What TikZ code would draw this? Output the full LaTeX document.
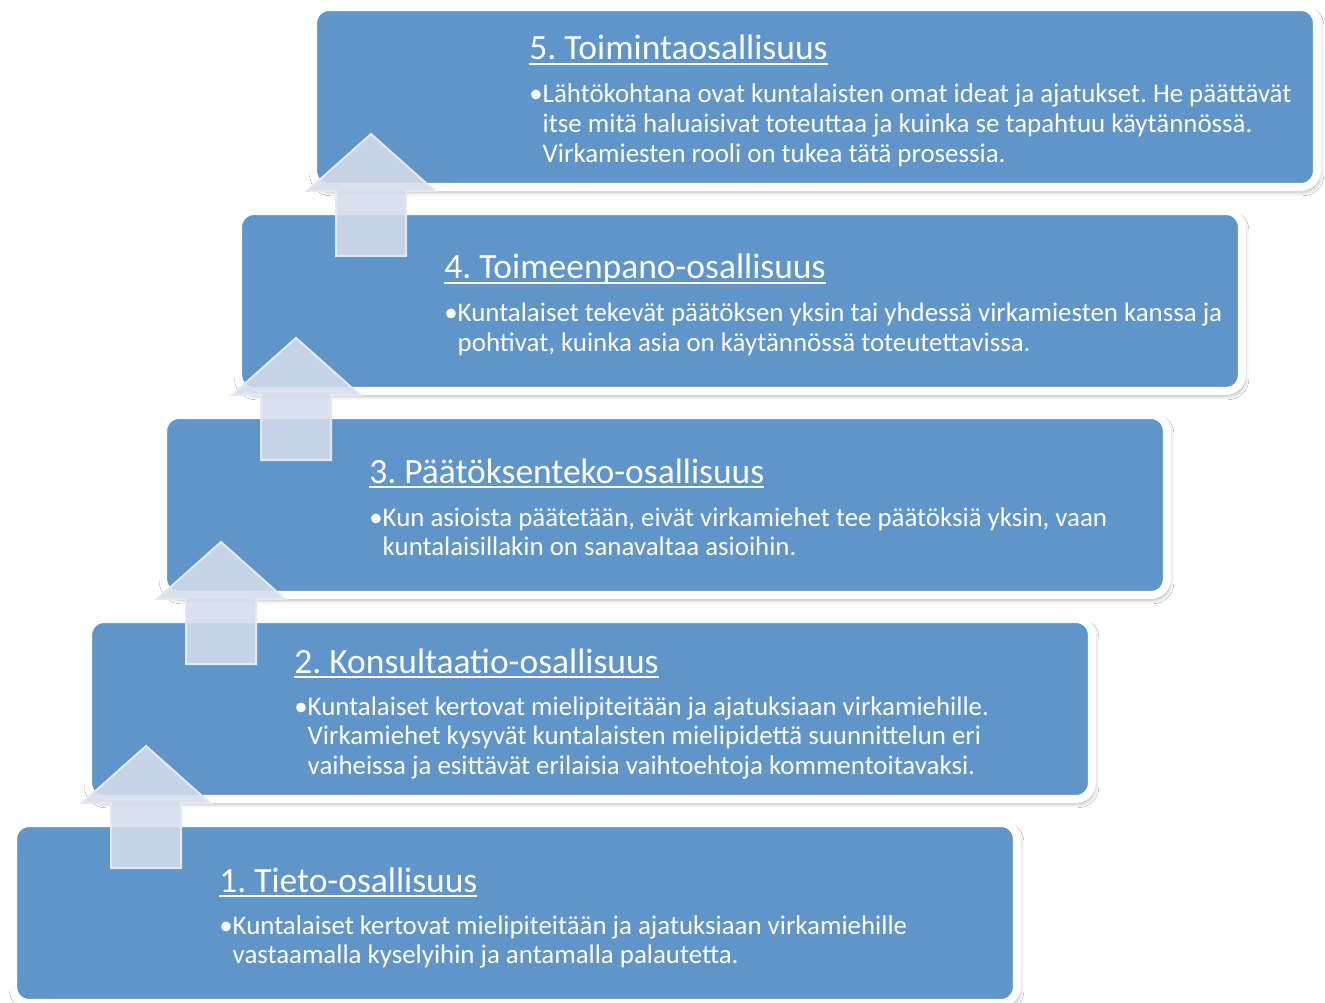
\documentclass[tikz,border=0pt]{standalone}
\usepackage{fontspec}
\setmainfont{Carlito}
\frenchspacing
\usetikzlibrary{shadows.blur}
\definecolor{stepblue}{RGB}{95,149,200}
\definecolor{liftfill}{RGB}{214,221,236}
\definecolor{liftedge}{RGB}{228,232,242}
\tikzset{
  stepbox/.style={rectangle, rounded corners=0.32cm, fill=stepblue, draw=white,
    line width=0.16cm, minimum width=20.08cm, minimum height=3.6cm,
    blur shadow={shadow xshift=1pt, shadow yshift=-2pt, shadow blur radius=3pt, shadow opacity=45}},
  steptitle/.style={anchor=base west, inner sep=0pt, text=white, font=\fontsize{20.2}{24}\selectfont},
  steptext/.style={anchor=base west, inner sep=0pt, text=white, font=\fontsize{15.3}{16.8}\selectfont},
  liftarrow/.style={fill=liftfill, fill opacity=0.88, draw=liftedge, line width=0.04cm, line join=miter}
}
\newcommand{\titleline}[1]{\setbox0\hbox{#1}\rlap{\rule[-2.7pt]{\wd0}{1.1pt}}\box0}
\newcommand{\bulletlines}[1]{•\begin{tabular}[t]{@{}l@{}}#1\end{tabular}}
\begin{document}
\begin{tikzpicture}[x=0.02cm, y=-0.02cm]
            \useasboundingbox (0,0) rectangle (1325,1003);
            \fill[white] (0,0) rectangle (1325,1003);
            % steps
            \node [stepbox] (b5) at (815,97) {};
            \node [stepbox] (b4) at (740,301) {};
            \node [stepbox] (b3) at (665,505) {};
            \node [stepbox] (b2) at (590,709) {};
            \node [stepbox] (b1) at (515,913) {};
            % arrows between steps
            \draw[liftarrow] (371,134) -- ++(64,57) -- ++(-29,0) -- ++(0,65) -- ++(-70,0) -- ++(0,-65) -- ++(-29,0) -- cycle;
            \draw[liftarrow] (296,338) -- ++(64,57) -- ++(-29,0) -- ++(0,65) -- ++(-70,0) -- ++(0,-65) -- ++(-29,0) -- cycle;
            \draw[liftarrow] (221,542) -- ++(64,57) -- ++(-29,0) -- ++(0,65) -- ++(-70,0) -- ++(0,-65) -- ++(-29,0) -- cycle;
            \draw[liftarrow] (146,746) -- ++(64,57) -- ++(-29,0) -- ++(0,65) -- ++(-70,0) -- ++(0,-65) -- ++(-29,0) -- cycle;
            % texts
            \node [steptitle] (t5) at (529,60) {\titleline{5. Toimintaosallisuus}};
            \node [steptext] (d5) at (529,103) {\bulletlines{Lähtökohtana ovat kuntalaisten omat ideat ja ajatukset. He päättävät\\itse mitä haluaisivat toteuttaa ja kuinka se tapahtuu käytännössä.\\Virkamiesten rooli on tukea tätä prosessia.}};
            \node [steptitle] (t4) at (444,279) {\titleline{4. Toimeenpano-osallisuus}};
            \node [steptext] (d4) at (444,322) {\bulletlines{Kuntalaiset tekevät päätöksen yksin tai yhdessä virkamiesten kanssa ja\\pohtivat, kuinka asia on käytännössä toteutettavissa.}};
            \node [steptitle] (t3) at (369,483) {\titleline{3. Päätöksenteko-osallisuus}};
            \node [steptext] (d3) at (369,526) {\bulletlines{Kun asioista päätetään, eivät virkamiehet tee päätöksiä yksin, vaan\\kuntalaisillakin on sanavaltaa asioihin.}};
            \node [steptitle] (t2) at (294,673) {\titleline{2. Konsultaatio-osallisuus}};
            \node [steptext] (d2) at (294,715) {\bulletlines{Kuntalaiset kertovat mielipiteitään ja ajatuksiaan virkamiehille.\\Virkamiehet kysyvät kuntalaisten mielipidettä suunnittelun eri\\vaiheissa ja esittävät erilaisia vaihtoehtoja kommentoitavaksi.}};
            \node [steptitle] (t1) at (219,892) {\titleline{1. Tieto-osallisuus}};
            \node [steptext] (d1) at (219,934) {\bulletlines{Kuntalaiset kertovat mielipiteitään ja ajatuksiaan virkamiehille\\vastaamalla kyselyihin ja antamalla palautetta.}};
        \end{tikzpicture}
\end{document}
